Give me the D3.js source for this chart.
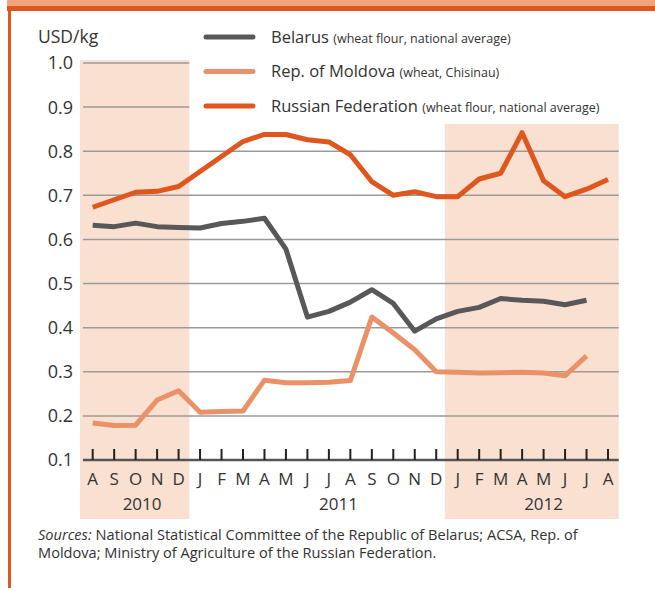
<!DOCTYPE html>
<html>
<head>
<meta charset="utf-8">
<script src="https://cdn.jsdelivr.net/npm/d3@7"></script>
<style>
  body { margin: 0; background: #fff; }
  svg { display: block; font-family: "Open Sans", "Noto Sans", sans-serif; }
</style>
</head>
<body>
<div id="chart"></div>
<script>
// Months Aug 2010 .. Aug 2012
const months = ["A","S","O","N","D","J","F","M","A","M","J","J","A","S","O","N","D","J","F","M","A","M","J","J","A"];
const yearLabels = [
  { year: "2010", pos: 2.3 },
  { year: "2011", pos: 11.45 },
  { year: "2012", pos: 21 }
];
// shaded year blocks (month index ranges)
const shadedYears = [
  { from: 0, to: 4, top: 1.0 },
  { from: 17, to: 24, top: 0.855 }
];
const yTicks = [0.1, 0.2, 0.3, 0.4, 0.5, 0.6, 0.7, 0.8, 0.9, 1.0];

const belarus = [0.632, 0.629, 0.637, 0.629, 0.627, 0.626, 0.636, 0.641, 0.648, 0.578, 0.424, 0.437, 0.458, 0.486, 0.455, 0.392, 0.42, 0.437, 0.446, 0.466, 0.462, 0.46, 0.452, 0.462];
const moldova = [0.184, 0.178, 0.179, 0.236, 0.257, 0.208, 0.21, 0.211, 0.281, 0.275, 0.275, 0.276, 0.28, 0.424, 0.388, 0.35, 0.3, 0.299, 0.297, 0.298, 0.299, 0.297, 0.291, 0.336];
const russia = [0.673, 0.69, 0.707, 0.709, 0.72, 0.754, 0.788, 0.822, 0.838, 0.838, 0.826, 0.821, 0.792, 0.731, 0.7, 0.708, 0.697, 0.697, 0.737, 0.75, 0.842, 0.733, 0.697, 0.714, 0.736];

const series = [
  { name: "Belarus", note: "(wheat flour, national average)", values: belarus, color: "#58585a" },
  { name: "Rep. of Moldova", note: "(wheat, Chisinau)", values: moldova, color: "#ea9167" },
  { name: "Russian Federation", note: "(wheat flour, national average)", values: russia, color: "#e0561f" }
];

const width = 655, height = 590;
const svg = d3.select("#chart").append("svg")
  .attr("width", width).attr("height", height);

// frame: top band and left rule
svg.append("rect").attr("x", 7).attr("y", 0).attr("width", width - 7).attr("height", 7).attr("fill", "#eea57e");
svg.append("rect").attr("x", 7).attr("y", 6).attr("width", width - 7).attr("height", 5).attr("fill", "#e0561f");
svg.append("rect").attr("x", 8).attr("y", 6).attr("width", 3).attr("height", 582).attr("fill", "#e0561f");

const x = d3.scaleLinear().domain([0, 24]).range([92.7, 608]);
const step = x(1) - x(0);
const y = d3.scaleLinear().domain([0.1, 1.0]).range([460, 63]);
const left = x(0) - step / 2 - 2, right = x(24) + step / 2;
const shadeRight = x(shadedYears[0].to) + step / 2;

// shaded year blocks
svg.selectAll("rect.shade").data(shadedYears).join("rect")
  .attr("class", "shade")
  .attr("x", d => x(d.from) - step / 2 - 2)
  .attr("width", d => x(d.to) - x(d.from) + step + 2)
  .attr("y", d => y(d.top) - 3)
  .attr("height", d => 519 - y(d.top) + 3)
  .attr("fill", "#f9e0d0");

// gridlines (top two only inside the 2010 block, under the legend)
svg.selectAll("line.grid").data(yTicks.slice(1)).join("line")
  .attr("class", "grid")
  .attr("x1", left + 3).attr("x2", d => d >= 0.9 ? shadeRight : right)
  .attr("y1", d => y(d)).attr("y2", d => y(d))
  .attr("stroke", "#9a9a9a").attr("stroke-width", 1.5);

// y labels
svg.selectAll("text.ytick").data(yTicks).join("text")
  .attr("class", "ytick")
  .attr("x", 73).attr("y", d => y(d))
  .attr("dy", "0.36em")
  .attr("text-anchor", "end")
  .attr("font-size", 18)
  .attr("fill", "#333")
  .text(d => d.toFixed(1));

svg.append("text").attr("x", 38).attr("y", 43)
  .attr("font-size", 17.5).attr("fill", "#333").text("USD/kg");

// x axis
svg.append("line").attr("x1", left + 3).attr("x2", right)
  .attr("y1", 460).attr("y2", 460)
  .attr("stroke", "#555").attr("stroke-width", 2.5);
svg.selectAll("line.xtick").data(months).join("line")
  .attr("class", "xtick")
  .attr("x1", (d, i) => x(i)).attr("x2", (d, i) => x(i))
  .attr("y1", 449).attr("y2", 460)
  .attr("stroke", "#222").attr("stroke-width", 2);
svg.selectAll("text.month").data(months).join("text")
  .attr("class", "month")
  .attr("x", (d, i) => x(i)).attr("y", 485)
  .attr("text-anchor", "middle")
  .attr("font-size", 17).attr("fill", "#333")
  .text(d => d);
svg.selectAll("text.year").data(yearLabels).join("text")
  .attr("class", "year")
  .attr("x", d => x(d.pos)).attr("y", 510)
  .attr("text-anchor", "middle")
  .attr("font-size", 17).attr("fill", "#333")
  .text(d => d.year);

// lines
const line = d3.line().x((d, i) => x(i)).y(d => y(d));
svg.selectAll("path.series").data(series).join("path")
  .attr("class", "series")
  .attr("d", d => line(d.values))
  .attr("fill", "none")
  .attr("stroke", d => d.color)
  .attr("stroke-width", 5)
  .attr("stroke-linejoin", "round");

// legend
const legend = svg.selectAll("g.legend").data(series).join("g")
  .attr("class", "legend")
  .attr("transform", (d, i) => `translate(0, ${37 + i * 34.5})`);
legend.append("line")
  .attr("x1", 206).attr("x2", 253)
  .attr("stroke", d => d.color).attr("stroke-width", 5)
  .attr("stroke-linecap", "round");
const lt = legend.append("text").attr("x", 271).attr("y", 5.5)
  .attr("fill", "#333");
lt.append("tspan").attr("font-size", 16.5).text(d => d.name + " ");
lt.append("tspan").attr("font-size", 12.5).text(d => d.note);

// sources
const srcItalic = svg.append("text").attr("x", 38).attr("y", 540)
  .attr("font-size", 14.6).attr("font-style", "italic").attr("fill", "#333")
  .text("Sources:");
const italicW = srcItalic.node().getComputedTextLength();
svg.append("text").attr("x", 38 + italicW + 4).attr("y", 540)
  .attr("font-size", 14.6).attr("fill", "#333")
  .text("National Statistical Committee of the Republic of Belarus; ACSA, Rep. of");
svg.append("text").attr("x", 38).attr("y", 558)
  .attr("font-size", 14.6).attr("fill", "#333")
  .text("Moldova; Ministry of Agriculture of the Russian Federation.");
</script>
</body>
</html>
